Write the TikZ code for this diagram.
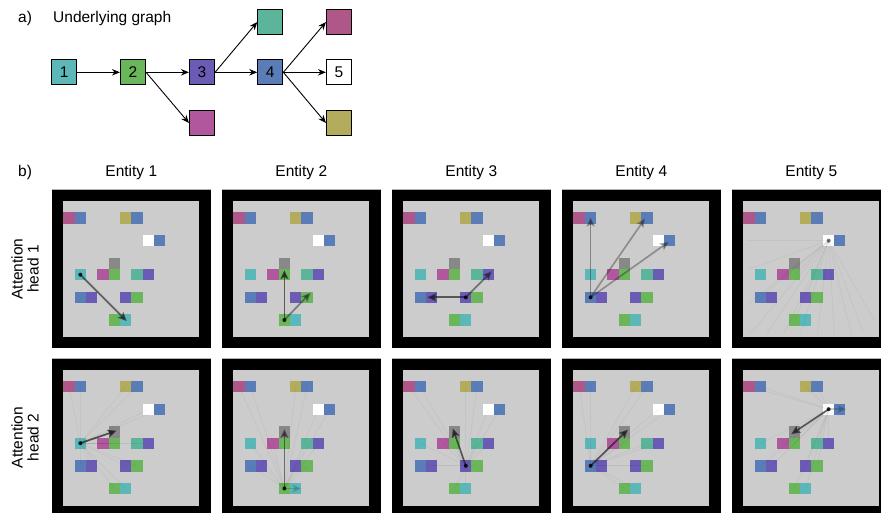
\documentclass[tikz,border=0pt]{standalone}
\usepackage{fontspec}
\setmainfont{Liberation Sans}
\usetikzlibrary{arrows.meta}
\definecolor{gMag}{HTML}{B0579E}
\definecolor{gMagB}{HTML}{B0578A}
\definecolor{gBlue}{HTML}{5A7DB8}
\definecolor{gOlive}{HTML}{B3AC5C}
\definecolor{gCyan}{HTML}{5CB8B8}
\definecolor{gGreen}{HTML}{6BB55B}
\definecolor{gTeal}{HTML}{5CB59B}
\definecolor{gPurple}{HTML}{6B5BB5}
\definecolor{gGray}{HTML}{888888}
\definecolor{gBack}{HTML}{CCCCCC}
\definecolor{attc}{HTML}{1A1A1A}
\tikzset{
  txt/.style={font=\fontsize{15.5}{17}\selectfont, inner sep=0pt},
  gbox/.style={draw=black, line width=1.1pt, minimum size=25pt, inner sep=0pt, font=\fontsize{15.5}{17}\selectfont},
  garrow/.style={line width=0.9pt, -{Stealth[length=8pt,width=6.5pt]}},
  panelat/.style 2 args={shift={(#1pt,-#2pt)}, x=11.333pt, y=-11.333pt},
  att/.style={draw=attc, line width=1.7pt, -{Stealth[length=9pt,width=8pt,inset=2pt]}},
  faint/.style={draw=black, line width=0.9pt, opacity=0.035},
  qdot/.style={fill=black, opacity=0.85}
}
\newcommand\gpanel[2]{%
  \begin{scope}[panelat={#1}{#2}]
    \fill[black] (-1,-1) rectangle (13,13);
    \draw[gray!60, line width=0.4pt] (-1,-1) -- (13,-1);
    \fill[gBack] (0,0) rectangle (12,12);
    \foreach \cc/\rr/\col in {0/1/gMagB,1/1/gBlue,5/1/gOlive,6/1/gBlue,7/3/white,8/3/gBlue,4/5/gGray,1/6/gCyan,3/6/gMag,4/6/gGreen,6/6/gTeal,7/6/gPurple,1/8/gBlue,2/8/gPurple,5/8/gPurple,6/8/gGreen,4/10/gGreen,5/10/gCyan}
      \fill[\col] (\cc,\rr) rectangle ++(1,1);
  \end{scope}}
\newcommand\faintfrom[1]{%
  \foreach \tx/\ty in {0.5/1.5,1.5/1.5,5.5/1.5,6.5/1.5,7.5/3.5,8.5/3.5,4.5/5.5,1.5/6.5,3.5/6.5,4.5/6.5,6.5/6.5,7.5/6.5,1.5/8.5,2.5/8.5,5.5/8.5,6.5/8.5,4.5/10.5,5.5/10.5}
    \draw[faint] (#1) -- (\tx,\ty);}
\begin{document}
\begin{tikzpicture}[x=1pt, y=-1pt]
\useasboundingbox (0,0) rectangle (881,512);
\fill[white] (0,0) rectangle (881,512);

% ---------- a) underlying graph ----------
\node[txt, anchor=west] (la) at (18,18.5) {a)};
\node[txt, anchor=west] (title) at (53,18.5) {Underlying graph};
\node[gbox, fill=gCyan] (n1) at (64.2,72.3) {1};
\node[gbox, fill=gGreen] (n2) at (133,72.3) {2};
\node[gbox, fill=gPurple] (n3) at (202,72.3) {3};
\node[gbox, fill=gBlue] (n4) at (270.3,72.3) {4};
\node[gbox, fill=white] (n5) at (339,72.3) {5};
\node[gbox, fill=gTeal] (nt) at (270.3,22) {};
\node[gbox, fill=gMag] (nm) at (202,123) {};
\node[gbox, fill=gMagB] (nm2) at (339,22) {};
\node[gbox, fill=gOlive] (no) at (339,123) {};
\draw[garrow] (n1) -- (n2);
\draw[garrow] (n2) -- (n3);
\draw[garrow] (n2.east) -- (nm.west);
\draw[garrow] (n3) -- (n4);
\draw[garrow] (n3.east) -- (nt.west);
\draw[garrow] (n4) -- (n5);
\draw[garrow] (n4.east) -- (nm2.west);
\draw[garrow] (n4.east) -- (no.west);

% ---------- b) labels ----------
\node[txt, anchor=west] (lb) at (18,172) {b)};
\foreach \k in {1,...,5}
  \node[txt] (ent\k) at ({131.3+170*(\k-1)},172) {Entity \k};
\node[txt, rotate=90, align=center, font=\fontsize{15.5}{16}\selectfont] (h1) at (25,269) {Attention\\head 1};
\node[txt, rotate=90, align=center, font=\fontsize{15.5}{16}\selectfont] (h2) at (25,437.5) {Attention\\head 2};

% ---------- panels ----------
\foreach \k in {0,...,4} {
  \gpanel{\fpeval{63.3+170*\k}}{201}
  \gpanel{\fpeval{63.3+170*\k}}{369.5}
}

% Row 1
\begin{scope}[panelat={63.3}{201}]
  \coordinate (s) at (1.5,6.5);
  \draw[att, opacity=0.6] (s) -- (5.6,10.6);
  \fill[qdot] (s) circle[radius=2pt];
\end{scope}
\begin{scope}[panelat={233.4}{201}]
  \coordinate (s) at (4.5,10.5);
  \draw[att, opacity=0.65] (s) -- (4.5,6.1);
  \draw[att, opacity=0.45] (s) -- (6.8,8.1);
  \fill[qdot] (s) circle[radius=2pt];
\end{scope}
\begin{scope}[panelat={403.5}{201}]
  \coordinate (s) at (5.5,8.5);
  \draw[att, opacity=0.65] (s) -- (2.1,8.5);
  \draw[att, opacity=0.5] (s) -- (7.8,6.2);
  \fill[qdot] (s) circle[radius=2pt];
\end{scope}
\begin{scope}[panelat={573.6}{201}]
  \coordinate (s) at (1.5,8.5);
  \draw[att, opacity=0.4] (s) -- (1.5,1.45);
  \draw[att, opacity=0.35] (s) -- (6.3,1.55);
  \draw[att, opacity=0.35] (s) -- (8.4,3.6);
  \fill[qdot] (s) circle[radius=2pt];
\end{scope}
\begin{scope}[panelat={743.7}{201}]
  \coordinate (s) at (7.5,3.5);
  \foreach \tx/\ty in {0.3/3.5,0.5/6,0.5/9,0.5/11.8,2/11.8,3.5/11.8,5/11.8,6.5/11.8,8/11.8,9.5/11.8,10.5/11.5,11.5/10.5,3.5/6.5,4.5/6.5,1.5/8.5,5.5/8.5,4.5/10.5}
    \draw[faint] (s) -- (\tx,\ty);
  \fill[qdot, opacity=0.55] (s) circle[radius=2pt];
\end{scope}

% Row 2
\begin{scope}[panelat={63.3}{369.5}]
  \coordinate (s) at (1.5,6.5);
  \faintfrom{s}
  \draw[att, opacity=0.7] (s) -- (4.7,5.4);
  \fill[qdot] (s) circle[radius=2pt];
\end{scope}
\begin{scope}[panelat={233.4}{369.5}]
  \coordinate (s) at (4.5,10.5);
  \faintfrom{s}
  \draw[att, opacity=0.5] (s) -- (4.5,5.25);
  \draw[att, opacity=0.15] (s) -- (6.0,10.5);
  \fill[qdot] (s) circle[radius=2pt];
\end{scope}
\begin{scope}[panelat={403.5}{369.5}]
  \coordinate (s) at (5.5,8.5);
  \faintfrom{s}
  \draw[att, opacity=0.65] (s) -- (4.35,5.2);
  \fill[qdot] (s) circle[radius=2pt];
\end{scope}
\begin{scope}[panelat={573.6}{369.5}]
  \coordinate (s) at (1.5,8.5);
  \faintfrom{s}
  \draw[att, opacity=0.65] (s) -- (4.8,5.3);
  \fill[qdot] (s) circle[radius=2pt];
\end{scope}
\begin{scope}[panelat={743.7}{369.5}]
  \coordinate (s) at (7.5,3.5);
  \faintfrom{s}
  \draw[att, opacity=0.65] (s) -- (4.2,5.7);
  \draw[att, opacity=0.2] (s) -- (9.05,3.5);
  \fill[qdot] (s) circle[radius=2pt];
\end{scope}
\end{tikzpicture}
\end{document}
